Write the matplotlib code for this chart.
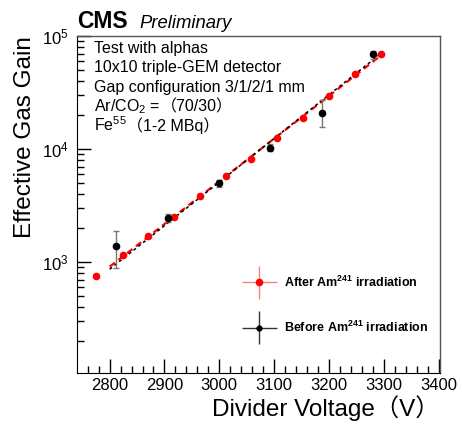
import numpy as np
import matplotlib
matplotlib.use("Agg")
import matplotlib.pyplot as plt
from matplotlib.legend_handler import HandlerErrorbar

plt.rcParams['font.family'] = ['Liberation Sans', 'Noto Sans CJK SC', 'DejaVu Sans']
plt.rcParams['mathtext.default'] = 'regular'

# Donnees
v_apres = [2776, 2824, 2870, 2918, 2964, 3012, 3058, 3106, 3152, 3200, 3247, 3294]
gain_apres = [760, 1155, 1710, 2510, 3830, 5740, 8090, 12600, 19000, 29300, 45700, 70000]

v_avant = [2812, 2906, 3000, 3092, 3188, 3280]
gain_avant = [1380, 2440, 4960, 10300, 20900, 68700]
err_bas_avant = [500, 180, 350, 700, 5100, 5500]
err_haut_avant = [500, 220, 350, 700, 6000, 5500]

# (debut en mathtext, suite en texte normal)
texte = [("Test with alphas", ""),
         ("10x10 triple-GEM detector", ""),
         ("Gap configuration 3/1/2/1 mm", ""),
         ("Ar/CO$_2$ = ", "\uff0870/30\uff09"),
         ("Fe$^{55}$", "\uff081-2 MBq\uff09")]

fig = plt.figure(figsize=(4.62, 4.24), dpi=100)
ax = fig.add_axes([0.166, 0.121, 0.786, 0.794])

# Ajustements exponentiels (ponderes par les erreurs pour "avant")
v_fit = np.linspace(2800, 3295, 50)
p_apres = np.polyfit(v_apres[1:], np.log10(gain_apres[1:]), 1)
sigma_log = (np.array(err_bas_avant) + np.array(err_haut_avant)) / 2 / (np.array(gain_avant) * np.log(10))
p_avant = np.polyfit(v_avant, np.log10(gain_avant), 1, w=1 / sigma_log)
ax.plot(v_fit, 10 ** np.polyval(p_apres, v_fit), color='red', ls=(0, (3, 2)), lw=1.6, zorder=2)
ax.plot(v_fit, 10 ** np.polyval(p_avant, v_fit), color='black', ls=(0, (2, 2)), lw=1.1, zorder=3)

ax.errorbar(v_apres, gain_apres, fmt='o', color='red', ms=4.5, zorder=4)
ax.errorbar(v_avant, gain_avant, yerr=[err_bas_avant, err_haut_avant],
            fmt='o', color='black', ms=4.5, ecolor='#777777', elinewidth=1, capsize=2, zorder=5)

# elements de legende
h_apres = ax.errorbar([], [], xerr=[], yerr=[], fmt='o', color='red', ms=4.5, ecolor='#ff8080', elinewidth=1)
h_avant = ax.errorbar([], [], xerr=[], yerr=[], fmt='o', color='black', ms=3.5, ecolor='#333333', elinewidth=1)

ax.set_yscale('log')
ax.set_xlim(2740, 3402)
ax.set_ylim(105, 1e5)
ax.set_xticks(np.arange(2800, 3401, 100))
ax.set_xticks(np.arange(2760, 3401, 20), minor=True)
ax.tick_params(axis='both', which='major', direction='in', labelsize=12, length=10, width=1)
ax.tick_params(axis='both', which='minor', direction='in', length=5, width=1)
ax.tick_params(axis='y', which='both', right=False)
ax.tick_params(axis='x', which='both', top=False)
ax.tick_params(axis='y', which='major', pad=6)
for cote in ['top', 'right']:
    ax.spines[cote].set_color('#555555')
    ax.spines[cote].set_linewidth(1)

ax.set_xlabel('Divider Voltage\uff08V\uff09', fontsize=17.5, loc='right', labelpad=2)
ax.set_ylabel('Effective Gas Gain', fontsize=17.5, loc='top', labelpad=4)

fig.text(0.166, 0.935, 'CMS', fontsize=16.5, fontweight='bold')
fig.text(0.301, 0.935, 'Preliminary', fontsize=13.3, style='italic')

fig.canvas.draw()
renderer = fig.canvas.get_renderer()
for i, (debut, suite) in enumerate(texte):
    y = 0.950 - i * 0.0582
    t = ax.text(0.048, y, debut, transform=ax.transAxes, fontsize=11.5, va='baseline')
    if suite:
        x_fin = t.get_window_extent(renderer).x1
        x_ax = ax.transAxes.inverted().transform((x_fin, 0))[0]
        ax.text(x_ax, y, suite, transform=ax.transAxes, fontsize=11.5, va='baseline')

leg = ax.legend([h_apres, h_avant],
                ['After Am$^{241}$ irradiation', 'Before Am$^{241}$ irradiation'],
                loc='upper left', bbox_to_anchor=(0.424, 0.325), frameon=False,
                prop={'weight': 'bold', 'size': 9}, handlelength=2.8, labelspacing=2.4,
                handletextpad=0.6,
                handler_map={type(h_apres): HandlerErrorbar(xerr_size=1.4, yerr_size=1.3)})

fig.savefig('out.png', dpi=100)
